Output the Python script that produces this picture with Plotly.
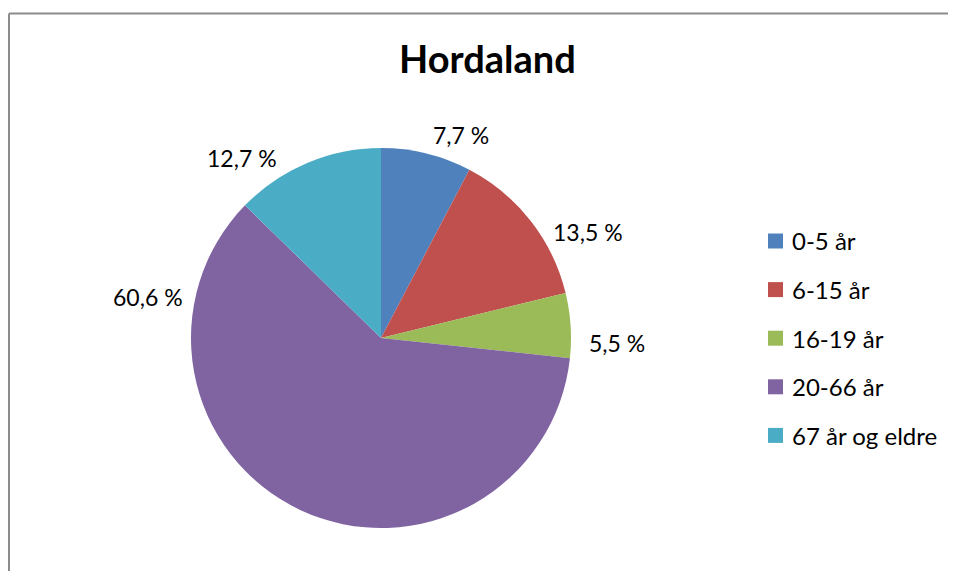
import plotly.graph_objects as go

# Data
categories = ["0-5 år", "6-15 år", "16-19 år", "20-66 år", "67 år og eldre"]
values = [7.7, 13.5, 5.5, 60.6, 12.7]
colors = ["#4F81BD", "#C0504D", "#9BBB59", "#8064A2", "#4BACC6"]
title_text = "Hordaland"

# The page body has an 8px margin, so the figure is drawn 8px in from the
# window's top-left corner; size it so no scrollbars appear.
OFF = 8
W, H = 956 - 2 * OFF, 579 - 2 * OFF
FONT = "Lato"

def px(x):
    # window pixel -> paper x
    return (x - OFF) / W

def py(y):
    # window pixel -> paper y
    return 1 - (y - OFF) / H

label_texts = [f"{v:.1f} %".replace(".", ",") for v in values]

# pie geometry (window pixels)
cx, cy, r = 381, 338, 190

fig = go.Figure(
    go.Pie(
        labels=categories,
        values=values,
        sort=False,
        direction="clockwise",
        rotation=0,
        marker=dict(colors=colors, line=dict(width=0)),
        textinfo="none",
        hoverinfo="label+percent",
        showlegend=False,
        domain=dict(x=[px(cx - r), px(cx + r)], y=[py(cy + r), py(cy - r)]),
    )
)

# data label positions (window pixel centres), in slice order
label_pos = [(461, 135), (588, 232), (617, 343), (148, 297), (242, 158)]
annotations = []
for t, (x, y) in zip(label_texts, label_pos):
    annotations.append(dict(
        text=t, x=px(x), y=py(y), xref="paper", yref="paper",
        xanchor="center", yanchor="middle", showarrow=False,
        font=dict(family=FONT, size=23, color="#000000"),
    ))

# title
annotations.append(dict(
    text="<b>" + title_text + "</b>", x=px(488), y=py(58), xref="paper", yref="paper",
    xanchor="center", yanchor="middle", showarrow=False,
    font=dict(family=FONT, size=38, color="#000000"),
))

shapes = []
# chart frame (top and left edges; right/bottom lie outside the window)
frame = dict(color="#8C8C8C", width=2)
shapes.append(dict(type="line", xref="paper", yref="paper",
                   x0=px(9), x1=1.0, y0=py(13.5), y1=py(13.5), line=frame, layer="below"))
shapes.append(dict(type="line", xref="paper", yref="paper",
                   x0=px(9), x1=px(9), y0=0.0, y1=py(13.5), line=frame, layer="below"))

# legend
leg_x, leg_y0, leg_dy, sq = 768, 241, 48.6, 15
for i, (c, name) in enumerate(zip(colors, categories)):
    yc = leg_y0 + i * leg_dy
    shapes.append(dict(type="rect", xref="paper", yref="paper",
                       x0=px(leg_x), x1=px(leg_x + sq), y0=py(yc + sq / 2), y1=py(yc - sq / 2),
                       line=dict(width=0), fillcolor=c))
    annotations.append(dict(
        text=name, x=px(leg_x + sq + 7), y=py(yc), xref="paper", yref="paper",
        xanchor="left", yanchor="middle", showarrow=False,
        font=dict(family=FONT, size=24, color="#000000"),
    ))

fig.update_layout(
    width=W, height=H,
    margin=dict(l=0, r=0, t=0, b=0),
    paper_bgcolor="white",
    plot_bgcolor="white",
    annotations=annotations,
    shapes=shapes,
    showlegend=False,
)

fig.write_html("out.html")
